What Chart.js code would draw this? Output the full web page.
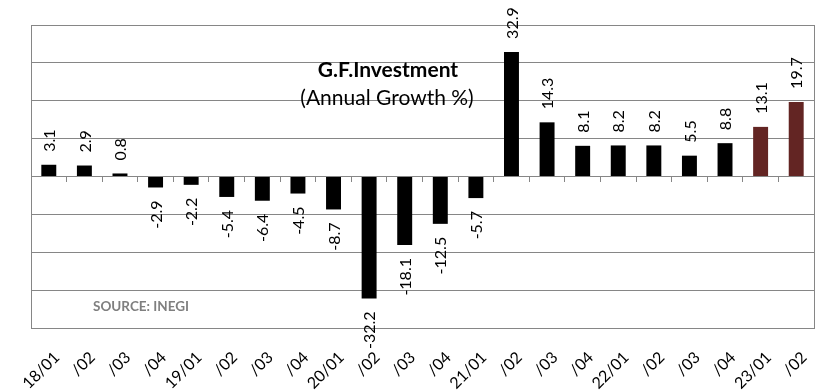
<!DOCTYPE html>
<html>
<head>
<meta charset="utf-8">
<title>G.F.Investment</title>
<script src="https://cdn.jsdelivr.net/npm/chart.js"></script>
<style>
  body { margin: 0; background: #fff; }
</style>
</head>
<body>
<canvas id="myChart" width="815" height="390"></canvas>
<script>
// Quarters (year/quarter)
const quarters = ['18/01', '/02', '/03', '/04', '19/01', '/02', '/03', '/04', '20/01', '/02', '/03', '/04',
                  '21/01', '/02', '/03', '/04', '22/01', '/02', '/03', '/04', '23/01', '/02'];
// Annual growth %
const growth = [3.1, 2.9, 0.8, -2.9, -2.2, -5.4, -6.4, -4.5, -8.7, -32.2, -18.1, -12.5,
                -5.7, 32.9, 14.3, 8.1, 8.2, 8.2, 5.5, 8.8, 13.1, 19.7];
// last quarters drawn in red
const recentCount = 2;
const yMin = -40;
const yMax = 40;
const yStep = 10;

const titleText = 'G.F.Investment';
const subtitleText = '(Annual Growth %)';
const sourceText = 'SOURCE: INEGI';

const gridGray = '#868686';
const fontName = 'Lato, "Open Sans", sans-serif';

let barColors = growth.map((v, i) => i >= growth.length - recentCount ? '#632523' : '#000000');

// etichette valori ruotate
const valueLabels = {
    id: 'valueLabels',
    afterDatasetsDraw(chart) {
        const ctx = chart.ctx;
        const meta = chart.getDatasetMeta(0);
        ctx.save();
        ctx.font = '16px ' + fontName;
        ctx.fillStyle = '#000';
        ctx.textBaseline = 'middle';
        meta.data.forEach((bar, i) => {
            const v = growth[i];
            ctx.save();
            if (v >= 0) {
                ctx.translate(bar.x, bar.y - 13);
                ctx.rotate(-Math.PI / 2);
                ctx.textAlign = 'left';
            } else {
                ctx.translate(bar.x, bar.y + 13);
                ctx.rotate(-Math.PI / 2);
                ctx.textAlign = 'right';
            }
            ctx.fillText(v.toFixed(1), 0, 1);
            ctx.restore();
        });
        ctx.restore();
    }
};

// titolo dentro il grafico + fonte
const innerTexts = {
    id: 'innerTexts',
    afterDatasetsDraw(chart) {
        const ctx = chart.ctx;
        const area = chart.chartArea;
        ctx.save();
        ctx.textAlign = 'center';
        ctx.textBaseline = 'middle';
        ctx.fillStyle = '#000';
        ctx.font = 'bold 21px ' + fontName;
        ctx.fillText(titleText, area.left + 357, area.top + 45);
        ctx.font = '21px ' + fontName;
        ctx.fillText(subtitleText, area.left + 356, area.top + 73);
        ctx.textAlign = 'left';
        ctx.fillStyle = '#7f7f7f';
        ctx.font = 'bold 13.5px ' + fontName;
        ctx.fillText(sourceText, area.left + 62, area.bottom - 21);
        ctx.restore();
    }
};

const chart = new Chart(document.getElementById('myChart'), {
    type: 'bar',
    data: {
        labels: quarters,
        datasets: [{
            label: 'Annual Growth %',
            data: growth,
            backgroundColor: barColors,
            borderWidth: 0,
            barPercentage: 0.42,
            categoryPercentage: 1
        }]
    },
    options: {
        responsive: false,
        animation: false,
        layout: {
            padding: { top: 25, right: 1, left: 0, bottom: 0 }
        },
        plugins: {
            legend: { display: false },
            title: { display: false },
            tooltip: { enabled: false }
        },
        scales: {
            x: {
                type: 'category',
                offset: true,
                grid: { display: false, offset: true },
                border: { color: gridGray },
                ticks: {
                    autoSkip: false,
                    maxRotation: 45,
                    minRotation: 45,
                    padding: 12,
                    labelOffset: 8,
                    color: '#000',
                    font: { family: fontName, size: 16 }
                },
                afterFit: (scale) => {
                    scale.height = 62;
                    scale.paddingLeft = 0;
                    scale.paddingRight = 0;
                }
            },
            // tacche sotto la linea dello zero
            x2: {
                type: 'category',
                position: { y: 0 },
                offset: true,
                grid: {
                    offset: true,
                    drawOnChartArea: false,
                    tickLength: 5,
                    color: gridGray
                },
                border: { display: false },
                ticks: { display: false }
            },
            y: {
                min: yMin,
                max: yMax,
                ticks: { stepSize: yStep, display: false },
                grid: { color: gridGray, drawTicks: false },
                border: { color: gridGray },
                afterFit: (scale) => { scale.width = 31; }
            },
            y2: {
                position: 'right',
                min: yMin,
                max: yMax,
                ticks: { display: false },
                grid: { drawOnChartArea: false, drawTicks: false },
                border: { color: gridGray },
                afterFit: (scale) => { scale.width = 0; }
            }
        }
    },
    plugins: [valueLabels, innerTexts]
});
</script>
</body>
</html>
